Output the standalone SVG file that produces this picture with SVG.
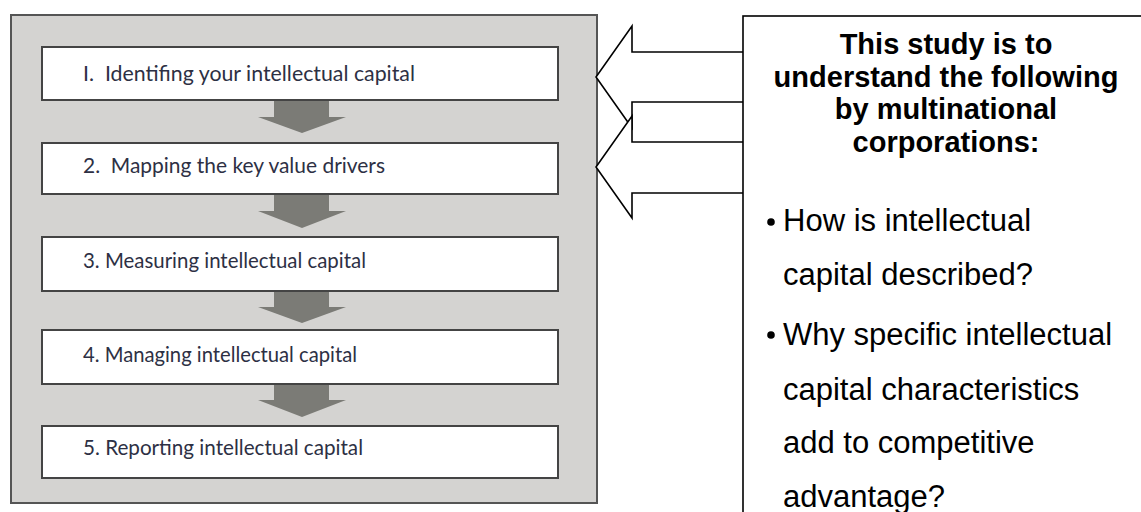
<svg xmlns="http://www.w3.org/2000/svg" width="1141" height="512" viewBox="0 0 1141 512">
<style>
.frame{fill:#d4d3d1;stroke:#555;stroke-width:2}
.step{fill:#fff;stroke:#444;stroke-width:2}
.stxt{font-family:Lato,"Open Sans",sans-serif;font-size:21px;fill:#2d3044}
.down{fill:#7b7b76}
.big{fill:#fff;stroke:#000;stroke-width:1.6;stroke-linejoin:miter}
.head{font-family:"Liberation Sans",Arial,sans-serif;font-size:29px;font-weight:bold;fill:#000;text-anchor:middle}
.bul{font-family:"Liberation Sans",Arial,sans-serif;font-size:31px;fill:#000}
</style>
<g id="frame">
<rect class="frame" x="11" y="15" width="586" height="488"/>
</g>
<g id="connectors">
<polygon class="down" points="274,100 329,100 329,117 346,117 302,133 258,117 274,117"/>
<polygon class="down" points="274,194 329,194 329,211 346,211 302,228 258,211 274,211"/>
<polygon class="down" points="274,291 329,291 329,307 346,307 302,323 258,307 274,307"/>
<polygon class="down" points="274,384 329,384 329,400 346,400 302,417 258,400 274,400"/>
<polygon class="big" points="745,52 632,52 632,26 596,77 632,128 632,102 745,102"/>
<polygon class="big" points="745,142 632,142 632,116 596,167 632,218 632,193 745,193"/>
</g>
<g id="step1">
<rect class="step" x="42" y="47" width="516" height="53"/>
<text class="stxt" x="83" y="81" xml:space="preserve" textLength="332" lengthAdjust="spacingAndGlyphs">I.  Identifing your intellectual capital</text>
</g>
<g id="step2">
<rect class="step" x="42" y="143" width="516" height="51"/>
<text class="stxt" x="83" y="173" xml:space="preserve" textLength="302" lengthAdjust="spacingAndGlyphs">2.  Mapping the key value drivers</text>
</g>
<g id="step3">
<rect class="step" x="42" y="237" width="516" height="54"/>
<text class="stxt" x="83" y="268" textLength="283" lengthAdjust="spacingAndGlyphs">3. Measuring intellectual capital</text>
</g>
<g id="step4">
<rect class="step" x="42" y="330" width="516" height="54"/>
<text class="stxt" x="83" y="362" textLength="274" lengthAdjust="spacingAndGlyphs">4. Managing intellectual capital</text>
</g>
<g id="step5">
<rect class="step" x="42" y="426" width="516" height="52"/>
<text class="stxt" x="83" y="455" textLength="280" lengthAdjust="spacingAndGlyphs">5. Reporting intellectual capital</text>
</g>
<g id="study">
<rect x="743" y="16" width="420" height="520" fill="#fff" stroke="#000" stroke-width="1.6"/>
<text class="head" x="946" y="54">This study is to</text>
<text class="head" x="946" y="87">understand the following</text>
<text class="head" x="946" y="119">by multinational</text>
<text class="head" x="946" y="152">corporations:</text>
<circle cx="771" cy="222" r="3.8" fill="#000"/>
<text class="bul" x="783" y="231">How is intellectual</text>
<text class="bul" x="783" y="285">capital described?</text>
<circle cx="771" cy="335" r="3.8" fill="#000"/>
<text class="bul" x="783" y="345">Why specific intellectual</text>
<text class="bul" x="783" y="400">capital characteristics</text>
<text class="bul" x="783" y="453">add to competitive</text>
<text class="bul" x="783" y="507">advantage?</text>
</g>
</svg>
